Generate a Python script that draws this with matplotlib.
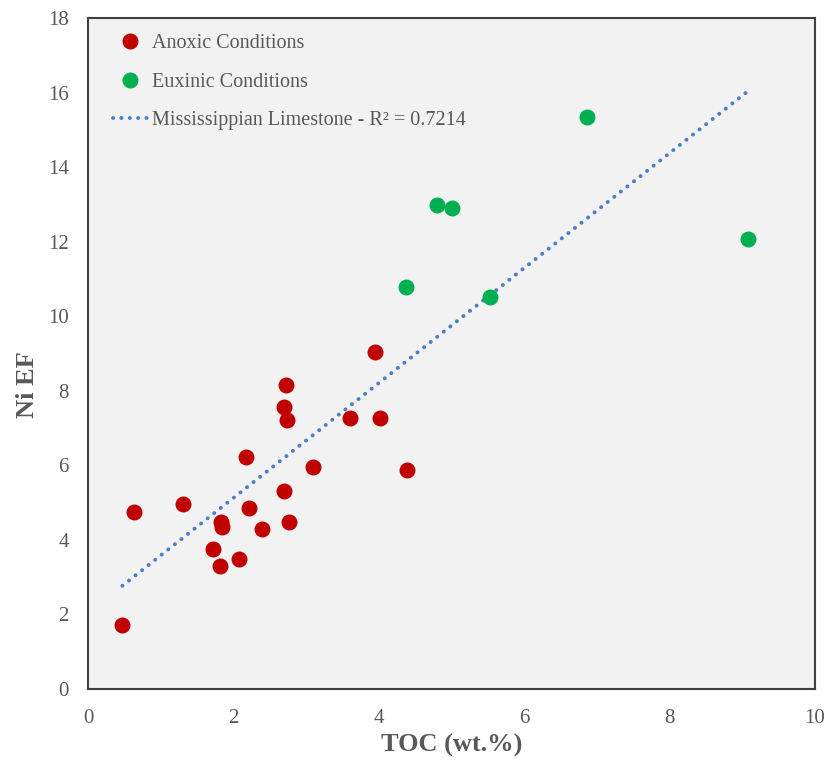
import numpy as np
import matplotlib.pyplot as plt
from matplotlib.lines import Line2D

# anoxic samples
anoxic_toc = [0.47, 0.63, 1.31, 1.72, 1.82, 1.83, 1.84, 2.07, 2.17, 2.21, 2.39,
              2.69, 2.70, 2.72, 2.74, 2.77, 3.10, 3.60, 3.94, 4.01, 4.39]
anoxic_ni = [1.72, 4.75, 4.96, 3.75, 3.30, 4.48, 4.35, 3.48, 6.22, 4.85, 4.29,
             5.31, 7.55, 8.14, 7.22, 4.48, 5.95, 7.27, 9.03, 7.27, 5.87]

# euxinic samples
euxinic_toc = [4.37, 4.80, 5.01, 5.53, 6.86, 9.08]
euxinic_ni = [10.77, 12.98, 12.90, 10.51, 15.34, 12.08]

plt.rcParams['font.family'] = ['Liberation Serif', 'DejaVu Serif']
grey = '#595959'
dots = (0, (0.05, 2.1))

fig = plt.figure(figsize=(8.24, 7.60), dpi=100)
ax = fig.add_axes([0.107, 0.094, 0.882, 0.882])
ax.set_facecolor('#F2F2F2')

ax.scatter(anoxic_toc, anoxic_ni, s=110, color='#C00000', zorder=3)
ax.scatter(euxinic_toc, euxinic_ni, s=110, color='#00B050', zorder=3)

# linear trendline over all samples
all_x = np.array(anoxic_toc + euxinic_toc)
all_y = np.array(anoxic_ni + euxinic_ni)
slope, icpt = np.polyfit(all_x, all_y, 1)
xs = np.linspace(all_x.min(), all_x.max(), 50)
ax.plot(xs, slope * xs + icpt, color='#4A7EC6', lw=2.8, ls=dots,
        dash_capstyle='round', zorder=2)

ax.set_xlim(0, 10)
ax.set_ylim(0, 18)
ax.set_xticks(range(0, 11, 2))
ax.set_yticks(range(0, 19, 2))
ax.tick_params(length=0, labelsize=15, colors=grey)
ax.tick_params(axis='x', pad=15)
ax.tick_params(axis='y', pad=14)
for s in ax.spines.values():
    s.set_color('#404040')
    s.set_linewidth(1.5)

ax.set_xlabel('TOC (wt.%)', fontsize=19, fontweight='bold', color=grey, labelpad=4)
ax.set_ylabel('Ni EF', fontsize=19, fontweight='bold', color=grey)
ax.yaxis.set_label_coords(-0.068, 0.453)

handles = [
    Line2D([], [], ls='none', marker='o', ms=10.5, color='#C00000'),
    Line2D([], [], ls='none', marker='o', ms=10.5, color='#00B050'),
    Line2D([], [], color='#4A7EC6', lw=2.8, ls=dots, dash_capstyle='round'),
]
labels = ['Anoxic Conditions', 'Euxinic Conditions',
          'Mississippian Limestone - R\u00b2 = 0.7214']
leg = ax.legend(handles, labels, loc='upper left', frameon=False, fontsize=14.5,
                labelcolor=grey, handlelength=1.7, handletextpad=0.25,
                labelspacing=0.95, borderaxespad=0.4, bbox_to_anchor=(0.012, 1.0))

fig.savefig('out.png', dpi=100)
